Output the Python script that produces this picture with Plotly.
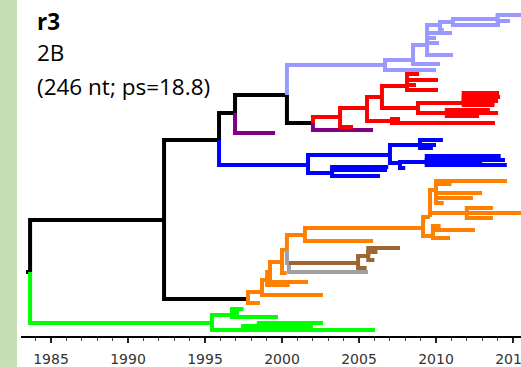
import plotly.graph_objects as go

# ---- tree data: (node, parent, year, row) grouped by clade ----
backbone = [
    ("o", None, 1983.38, 272), ("r", "o", 1983.64, 272),
    ("A", "r", 1992.34, 220), ("Bn", "A", 1995.91, 140), ("N", "A", 1997.79, 299),
    ("C", "Bn", 1996.95, 113), ("D", "C", 2000.32, 95), ("E", "D", 2002.01, 123),
]
purple_clade = [("p1", "C", 1999.55, 133), ("p2", "E", 2005.91, 130)]
red_clade = [
    ("F", "E", 2003.77, 117), ("f1", "F", 2004.61, 127), ("G", "F", 2005.52, 108),
    ("H", "G", 2006.49, 97), ("G2", "G", 2007.14, 121), ("g2a", "G2", 2007.66, 119),
    ("g2b", "G2", 2013.83, 123), ("I", "H", 2008.12, 86), ("i1", "I", 2010.13, 80),
    ("i2", "I", 2010.13, 90), ("i3", "I", 2008.9, 74), ("i4", "I", 2008.7, 85),
    ("J", "H", 2008.83, 108), ("J1", "J", 2011.8, 103), ("j1a", "J1", 2014.16, 97),
    ("j1b", "J1", 2014.03, 101), ("j1c", "J1", 2013.8, 105), ("j1d", "J1", 2014.1, 93),
    ("J2", "J", 2010.7, 113), ("j2a", "J2", 2014.03, 113), ("j2b", "J2", 2013.5, 110),
    ("j2c", "J2", 2012.8, 116),
]
lightblue_clade = [
    ("K", "D", 2006.69, 65), ("k2", "K", 2010.0, 70), ("K1", "K", 2008.51, 60),
    ("k1a", "K1", 2010.26, 64), ("Q1", "K1", 2009.42, 45), ("q1a", "Q1", 2011.04, 33),
    ("q1b", "Q1", 2010.2, 43), ("q1c", "Q1", 2011.1, 55), ("q1d", "Q1", 2010.0, 38),
    ("Q2", "Q1", 2010.26, 25), ("q2a", "Q2", 2010.5, 30), ("Q3", "Q2", 2011.1, 22),
    ("q3a", "Q3", 2014.16, 25), ("Q4", "Q3", 2014.0, 19), ("q4a", "Q4", 2016.0, 15),
    ("q4b", "Q4", 2014.8, 21),
]
blue_clade = [
    ("L", "Bn", 2001.69, 165), ("L2", "L", 2003.25, 173), ("l2a", "L2", 2006.82, 170),
    ("l2b", "L2", 2006.36, 176), ("l2c", "L2", 2006.9, 167), ("M", "L", 2007.01, 155),
    ("M1", "M", 2008.96, 145), ("m1a", "M1", 2010.45, 140), ("m1b", "M1", 2010.0, 145),
    ("m1c", "M1", 2009.8, 148), ("M2", "M", 2007.66, 163), ("m2a", "M2", 2008.0, 168),
    ("M3", "M2", 2009.4, 162), ("m3a", "M3", 2014.48, 160), ("m3b", "M3", 2014.6, 165),
    ("m3c", "M3", 2014.2, 156), ("m3d", "M3", 2013.0, 164),
]
orange_clade = [
    ("n1", "N", 1998.57, 303), ("N2", "N", 1998.70, 292), ("n2a", "N2", 2002.66, 295),
    ("N3", "N2", 1999.03, 280), ("n3a", "N3", 2000.5, 285), ("N4", "N3", 1999.22, 272),
    ("n4a", "N4", 2001.69, 282), ("N5", "N4", 2000.0, 262), ("n5a", "N5", 2000.3, 273),
    ("N6", "N5", 2000.32, 250), ("O", "N6", 2001.49, 235), ("o1", "O", 2005.91, 241),
    ("P", "O", 2009.16, 228), ("Q", "P", 2009.61, 217), ("P2", "P", 2009.8, 236),
    ("Qa", "Q", 2010.0, 190), ("qa1", "Qa", 2014.61, 181), ("qa2", "Qa", 2011.0, 184),
    ("qa3", "Qa", 2012.99, 193), ("qa4", "Qa", 2012.4, 198), ("qa5", "Qa", 2010.5, 203),
    ("Qb", "Q", 2012.0, 213), ("qb1", "Qb", 2013.7, 208), ("qb2", "Qb", 2015.6, 213),
    ("qb3", "Qb", 2013.7, 218), ("p2a", "P2", 2012.53, 230), ("p2b", "P2", 2010.91, 238),
    ("p2c", "P2", 2010.3, 226),
]
grey_clade = [("GB", "N6", 2000.45, 263), ("gr1", "GB", 2005.58, 272)]
brown_clade = [
    ("B1", "GB", 2004.94, 263), ("b1", "B1", 2005.5, 268), ("B2", "B1", 2005.6, 256),
    ("b2a", "B2", 2007.66, 248), ("b2b", "B2", 2006.0, 260), ("b2c", "B2", 2006.2, 252),
]
green_clade = [
    ("g", "r", 1995.45, 323), ("S", "g", 1996.75, 315), ("s1", "S", 1997.5, 309),
    ("s2", "S", 1999.74, 317), ("s3", "S", 1997.2, 313), ("T", "g", 1997.47, 330),
    ("T1", "T", 1998.5, 326), ("t1a", "T1", 2002.66, 323), ("t1b", "T1", 2002.0, 327),
    ("t1c", "T1", 2000.5, 325), ("t2", "T", 2006.04, 330),
]

clades = [
    (backbone, "#000000"), (purple_clade, "#800080"), (red_clade, "#ff0000"),
    (lightblue_clade, "#9999ff"), (blue_clade, "#0000ff"), (orange_clade, "#ff8000"),
    (grey_clade, "#a0a0a0"), (brown_clade, "#9e6631"), (green_clade, "#00ff00"),
]

tick_years = [1985, 1990, 1995, 2000, 2005, 2010, 2015]
title_lines = ["<b>r3</b>", "2B", "(246 nt; ps=18.8)"]

# ---- build ----
pos = {}
for tbl, _ in clades:
    for nid, par, yr, row in tbl:
        pos[nid] = (yr, row)

fig = go.Figure()
for tbl, col in clades:
    xs, ys = [], []
    for nid, par, yr, row in tbl:
        if par is None:
            continue
        px, py = pos[par]
        xs += [px, px, yr, None]
        ys += [py, row, row, None]
    fig.add_trace(go.Scatter(x=xs, y=ys, mode="lines", hoverinfo="skip",
                             line=dict(color=col, width=4), showlegend=False))

W, H = 521, 367
ml, mb = 21, 31
plot_w, plot_h = W - ml, H - mb

fig.update_layout(
    width=W, height=H, margin=dict(l=ml, r=0, t=0, b=mb, autoexpand=False),
    plot_bgcolor="white", paper_bgcolor="white",
    xaxis=dict(range=[1983.05, 2015.52], showgrid=False, zeroline=False, automargin=False,
               showline=True, linecolor="black", linewidth=2,
               tickvals=tick_years, ticks="outside", ticklen=5, tickwidth=1.5,
               tickcolor="#222", ticklabeloverflow="allow", ticklabelstandoff=4,
               tickfont=dict(family="DejaVu Sans", size=14, color="#333"),
               minor=dict(dtick=1, ticks="outside", ticklen=3, tickwidth=1, tickcolor="#444"),
               fixedrange=True),
    yaxis=dict(range=[336, 0], visible=False, fixedrange=True, automargin=False),
    shapes=[dict(type="rect", xref="paper", yref="paper",
                 x0=-ml / plot_w, x1=(17 - ml) / plot_w, y0=-mb / plot_h, y1=1,
                 fillcolor="#c5e0b4", line=dict(width=0), layer="below")],
)
ys_text = [21, 52, 86]
for txt, yy in zip(title_lines, ys_text):
    fig.add_annotation(text=txt, xref="paper", yref="paper",
                       x=(35 - ml) / plot_w, y=1 - yy / plot_h, xanchor="left", yanchor="middle",
                       showarrow=False, font=dict(family="Open Sans", size=22.5, color="black"))

fig.write_html("out.html")
